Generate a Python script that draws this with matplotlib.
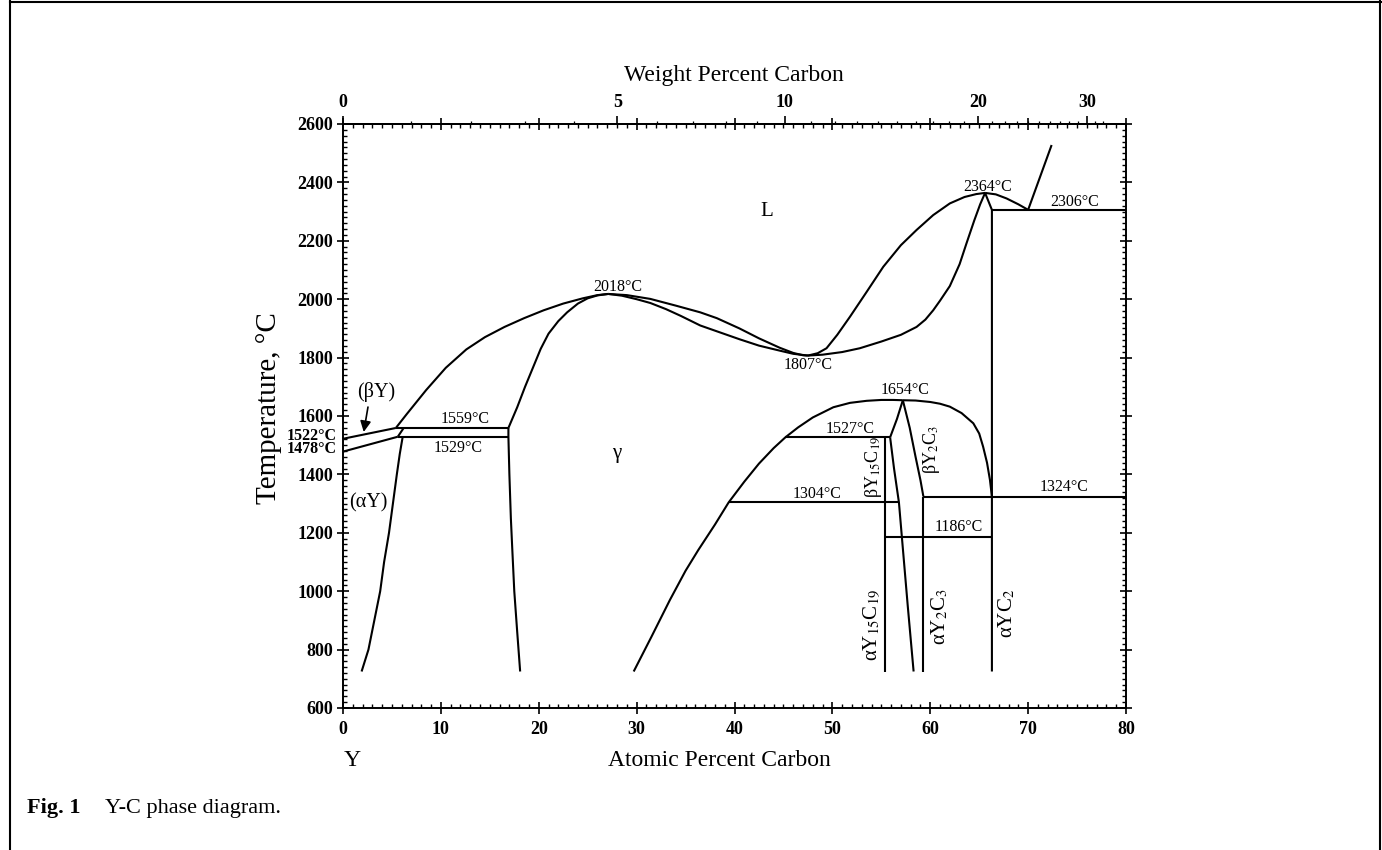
import numpy as np
import matplotlib
matplotlib.use("Agg")
import matplotlib.pyplot as plt
from matplotlib.lines import Line2D

plt.rcParams['font.family'] = ['Liberation Serif', 'DejaVu Serif']
plt.rcParams['mathtext.fontset'] = 'stix'

# --- phase boundaries: atomic % C vs temperature (deg C) ---
# Y-rich side
by_upper_x = [0, 5.4]
by_upper_t = [1522, 1559]
by_lower_x = [0, 5.6]
by_lower_t = [1478, 1529]
by_short_x = [6.2, 5.6]
by_short_t = [1559, 1529]
ay_solvus_x = [6.1, 5.8, 5.5, 5.1, 4.7, 4.2, 3.8, 3.2, 2.6, 1.9]
ay_solvus_t = [1529, 1470, 1400, 1300, 1200, 1100, 1000, 900, 800, 725]
g_left_x = [16.9, 16.9, 17.0, 17.15, 17.3, 17.5, 17.8, 18.1]
g_left_t = [1559, 1529, 1400, 1250, 1141, 1000, 860, 725]

# liquidus / solidus around the gamma field
liq_left_x = [5.4, 6.5, 8.5, 10.5, 12.6, 14.5, 16.5, 18.5, 20.5, 22.5, 24.5, 26.0, 27.1]
liq_left_t = [1559, 1606, 1689, 1765, 1828, 1870, 1905, 1935, 1962, 1985, 2003, 2014, 2018]
sol_left_x = [16.9, 17.8, 18.6, 19.4, 20.2, 21.0, 22.0, 22.9, 24.0, 25.0, 26.0, 27.1]
sol_left_t = [1559, 1630, 1700, 1765, 1830, 1882, 1925, 1955, 1985, 2003, 2013, 2018]
liq_mid_x = [27.1, 29.0, 31.4, 34.0, 36.5, 38.2, 40.5, 42.5, 44.6, 46.0, 47.0, 47.5]
liq_mid_t = [2018, 2014, 2001, 1978, 1955, 1935, 1900, 1866, 1834, 1816, 1808, 1807]
sol_mid_x = [27.1, 28.5, 30.0, 31.4, 33.0, 34.5, 36.5, 38.2, 40.5, 42.5, 44.6, 46.0, 47.5]
sol_mid_t = [2018, 2012, 2000, 1987, 1966, 1943, 1910, 1890, 1863, 1841, 1824, 1813, 1807]
liq_right_x = [47.5, 48.5, 49.4, 50.5, 51.8, 53.5, 55.2, 57.0, 58.6, 60.3, 62.0, 63.5, 64.7, 65.6]
liq_right_t = [1807, 1815, 1832, 1878, 1940, 2025, 2111, 2185, 2237, 2288, 2328, 2350, 2360, 2364]
sol_right_x = [47.5, 49.0, 51.0, 52.8, 55.0, 57.0, 58.6, 59.5, 60.3, 61.0, 62.0, 63.0, 63.7,
               64.5, 65.1, 65.6]
sol_right_t = [1807, 1810, 1819, 1832, 1855, 1878, 1905, 1930, 1962, 1995, 2045, 2120, 2191,
               2270, 2325, 2364]
liq_far_x = [65.6, 66.7, 67.8, 69.0, 70.0]
liq_far_t = [2364, 2359, 2345, 2325, 2306]
graphite_x = [70.0, 72.4]
graphite_t = [2306, 2528]
yc2_x = [65.6, 66.3, 66.3]
yc2_t = [2364, 2306, 725]

# carbide region
g_right_x = [29.7, 31.5, 33.4, 35.0, 36.3, 38.0, 39.4, 41.0, 42.5, 44.0, 45.2, 46.5, 48.0,
             50.1, 51.8, 53.5, 55.0, 56.2, 57.2]
g_right_t = [725, 843, 970, 1070, 1141, 1228, 1304, 1375, 1437, 1490, 1527, 1561, 1595,
             1630, 1645, 1652, 1655, 1655, 1654]
yc2_solvus_x = [57.2, 58.5, 60.0, 61.0, 62.0, 63.2, 64.4, 65.0, 65.4, 65.8, 66.1, 66.3]
yc2_solvus_t = [1654, 1653, 1648, 1642, 1632, 1610, 1575, 1540, 1495, 1440, 1381, 1324]
y15_upper_x = [57.2, 56.6, 55.9]
y15_upper_t = [1654, 1590, 1527]
y15_right_x = [55.9, 56.3, 56.8, 57.1, 57.7, 58.3]
y15_right_t = [1527, 1420, 1304, 1186, 950, 725]
y2c3_left_x = [57.2, 57.9, 58.5, 59.0, 59.3]
y2c3_left_t = [1654, 1560, 1460, 1380, 1324]

# vertical compound lines
comp_x = [55.4, 59.3]
comp_top = [1527, 1324]
comp_bottom = 725

# isotherms
iso_t = [1559, 1529, 2306, 1527, 1304, 1324, 1186]
iso_x0 = [5.4, 5.6, 66.3, 45.2, 39.4, 59.3, 55.4]
iso_x1 = [16.9, 16.9, 80, 55.9, 56.8, 80, 66.3]

# temperature labels (text, x, T)
temp_labels = ['2018°C', '1807°C', '2364°C', '2306°C', '1654°C', '1559°C', '1529°C',
               '1527°C', '1304°C', '1324°C', '1186°C']
temp_lab_x = [28.1, 47.5, 65.9, 74.8, 57.4, 12.5, 11.8, 51.8, 48.4, 73.7, 62.9]
temp_lab_t = [2043, 1773, 2383, 2334, 1689, 1590, 1489, 1557, 1334, 1358, 1219]

x_major = [0, 10, 20, 30, 40, 50, 60, 70, 80]
y_major = [600, 800, 1000, 1200, 1400, 1600, 1800, 2000, 2200, 2400, 2600]
wt_major = [0, 5, 10, 20, 30]

W, H = 1382, 850
fig = plt.figure(figsize=(W / 100, H / 100), dpi=100)
ax = fig.add_axes([343 / W, 1 - 708 / H, (1126 - 343) / W, (708 - 124) / H])

lw = 1.5
kw = dict(color='black', lw=lw, solid_capstyle='butt', solid_joinstyle='round')
curves = [(by_upper_x, by_upper_t), (by_lower_x, by_lower_t), (by_short_x, by_short_t),
          (ay_solvus_x, ay_solvus_t), (g_left_x, g_left_t), (liq_left_x, liq_left_t),
          (sol_left_x, sol_left_t), (liq_mid_x, liq_mid_t), (sol_mid_x, sol_mid_t),
          (liq_right_x, liq_right_t), (sol_right_x, sol_right_t), (liq_far_x, liq_far_t),
          (graphite_x, graphite_t), (yc2_x, yc2_t), (g_right_x, g_right_t),
          (yc2_solvus_x, yc2_solvus_t), (y15_upper_x, y15_upper_t),
          (y15_right_x, y15_right_t), (y2c3_left_x, y2c3_left_t)]
for cx, ct in curves:
    ax.plot(cx, ct, **kw)
for cx, top in zip(comp_x, comp_top):
    ax.plot([cx, cx], [top, comp_bottom], **kw)
for t, x0, x1 in zip(iso_t, iso_x0, iso_x1):
    ax.plot([x0, x1], [t, t], **kw)

ax.set_xlim(0, 80)
ax.set_ylim(600, 2600)

# ticks
ax.set_xticks(x_major)
ax.set_xticks(np.arange(0, 81, 1), minor=True)
ax.set_yticks(y_major)
ax.set_yticks(np.arange(600, 2601, 20), minor=True)
ax.tick_params(which='major', direction='inout', length=8, width=1.2,
               top=True, right=True, labelsize=13, pad=3)
ax.tick_params(which='minor', direction='in', length=3, width=1.0, top=True, right=True)
ax.tick_params(axis='x', which='major', pad=5)
plt.setp(ax.get_xticklabels() + ax.get_yticklabels(), fontweight='bold')
for s in ax.spines.values():
    s.set_linewidth(1.4)


def at_to_wt(a):
    a = np.asarray(a, dtype=float)
    with np.errstate(divide='ignore', invalid='ignore'):
        c = a * 12.011
        return 100 * c / (c + (100 - a) * 88.906)


def wt_to_at(w):
    w = np.asarray(w, dtype=float)
    with np.errstate(divide='ignore', invalid='ignore'):
        c = w / 12.011
        return 100 * c / (c + (100 - w) / 88.906)


sec = ax.secondary_xaxis('top', functions=(at_to_wt, wt_to_at))
sec.set_xticks(wt_major)
sec.set_xticks([w for w in range(1, 33) if w not in wt_major], minor=True)
sec.tick_params(which='major', direction='out', length=6, width=1.2, labelsize=13, pad=3)
sec.tick_params(which='minor', direction='out', length=2.5, width=0.9)
plt.setp(sec.get_xticklabels(), fontweight='bold')
sec.spines['top'].set_linewidth(1.4)

# phase labels
ax.text(43.3, 2300, 'L', fontsize=15, ha='center', va='center')
ax.text(28.0, 1472, 'γ', fontsize=15, ha='center', va='center')
ax.text(3.4, 1683, '(βY)', fontsize=14.5, ha='center', va='center')
ax.text(2.6, 1301, '(αY)', fontsize=14.5, ha='center', va='center')
ax.annotate('', xy=(2.07, 1536), xytext=(2.6, 1640),
            arrowprops=dict(arrowstyle='-|>', color='black', lw=1.2, mutation_scale=16))

for s, x, t in zip(temp_labels, temp_lab_x, temp_lab_t):
    ax.text(x, t, s, fontsize=11.5, ha='center', va='center')
ax.text(-0.6, 1533, '1522°C', fontsize=11.5, fontweight='bold', ha='right', va='center',
        clip_on=False)
ax.text(-0.6, 1486, '1478°C', fontsize=11.5, fontweight='bold', ha='right', va='center',
        clip_on=False)

ax.text(54.2, 1425, r'βY$_{15}$C$_{19}$', fontsize=13, rotation=90, ha='center', va='center')
ax.text(60.1, 1484, r'βY$_{2}$C$_{3}$', fontsize=13, rotation=90, ha='center', va='center')
ax.text(54.0, 885, r'αY$_{15}$C$_{19}$', fontsize=15, rotation=90, ha='center', va='center')
ax.text(61.0, 913, r'αY$_{2}$C$_{3}$', fontsize=15, rotation=90, ha='center', va='center')
ax.text(67.8, 924, r'αYC$_{2}$', fontsize=15, rotation=90, ha='center', va='center')

# axis titles and caption
fig.text(734 / W, 1 - 75 / H, 'Weight Percent Carbon', fontsize=17, ha='center', va='center')
fig.text(719 / W, 1 - 760 / H, 'Atomic Percent Carbon', fontsize=17, ha='center', va='center')
fig.text(352 / W, 1 - 760 / H, 'Y', fontsize=17, ha='center', va='center')
fig.text(269 / W, 1 - 408 / H, 'Temperature, °C', fontsize=21, rotation=90,
         ha='center', va='center')
fig.text(27 / W, 1 - 808 / H, 'Fig. 1', fontsize=16, fontweight='bold', ha='left', va='center')
fig.text(105 / W, 1 - 808 / H, 'Y-C phase diagram.', fontsize=16, ha='left', va='center')

# page frame
fig.add_artist(Line2D([10 / W, 10 / W], [0, 1], color='black', lw=1.5))
fig.add_artist(Line2D([10 / W, 1], [1 - 2 / H, 1 - 2 / H], color='black', lw=1.5))
fig.add_artist(Line2D([1 - 2 / W, 1 - 2 / W], [0, 1], color='black', lw=1.5))

fig.savefig('out.png', dpi=100)
